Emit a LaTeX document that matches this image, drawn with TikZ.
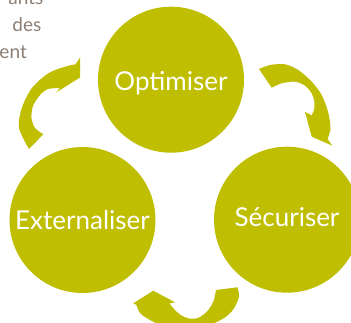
\documentclass[tikz,border=0pt]{standalone}
\usepackage{fontspec}
\setmainfont{Lato}
\definecolor{cyc}{RGB}{191,190,0}
\definecolor{notec}{RGB}{140,126,114}
\begin{document}
\begin{tikzpicture}[x=1pt,y=-1pt,
  stage/.style={circle, fill=cyc, minimum size=146pt, inner sep=0pt, text=white,
    font=\fontsize{26}{30}\selectfont},
  arr/.style={fill=cyc},
  note/.style={text=notec, font=\fontsize{19}{23}\selectfont, anchor=base east, inner sep=0pt}]
\useasboundingbox (0,0) rectangle (351,322);
\clip (0,0) rectangle (351,322);
% paragraph fragment
\node[note] (t1) at (43.5,4) {ants};
\node[note] (t2) at (41.5,31) {des};
\node[note] (t3) at (27,58) {ent};
% stages
\node[stage, text height=22pt, text depth=0pt] (opt) at (171,79.7) {Optimiser};
\node[stage, text height=19pt, text depth=0pt] (ext) at (82.5,220) {Externaliser};
\node[stage, text height=19pt, text depth=5pt] (sec) at (287,219.7) {Sécuriser};
% arrow Externaliser -> Optimiser
\fill[arr] (29,149) -- plot[smooth] coordinates {(29,149) (19,128) (21.7,108.3) (31.7,88.3) (48.3,73.3) (65,66.7) (75.5,64.3)}
  -- (80,57.7) -- (80,77.5) -- (56,92.5) -- (60,88)
  -- plot[smooth] coordinates {(60,88) (48,89) (40,95) (33,106) (31.5,118) (35,128) (43.3,134.3)} -- cycle;
% arrow Optimiser -> Securiser
\fill[arr] (259,69) -- plot[smooth] coordinates {(259,69) (270,65) (285,64.3) (298.3,70) (311.7,81.7) (321.7,95) (328,111.7) (330.5,128.3) (327.5,139)}
  -- (332.3,145.7) -- (311.7,136.7) -- (305,111.7) -- (311.5,115.5)
  -- plot[smooth] coordinates {(311.5,115.5) (314,110) (314.3,101.7) (311.7,93.3) (305,85.7) (295,81.7) (281.7,83.3) (271.7,87.7)} -- cycle;
% arrow Securiser -> Externaliser
\fill[arr] (237.5,287.3) -- plot[smooth] coordinates {(237.5,287.3) (239,296.7) (234,308.3) (226,316.7) (212,324) (190,330) (168,328) (150,320) (140,313) (136.5,305)}
  -- (133.3,303.3) -- (153.3,290.7) -- (175,302.3) -- (169.5,303.5)
  -- plot[smooth] coordinates {(169.5,303.5) (174,309) (180,314.5) (188.3,318.3) (198,318) (207.5,311) (213.5,301) (216,290)} -- cycle;
\end{tikzpicture}
\end{document}
